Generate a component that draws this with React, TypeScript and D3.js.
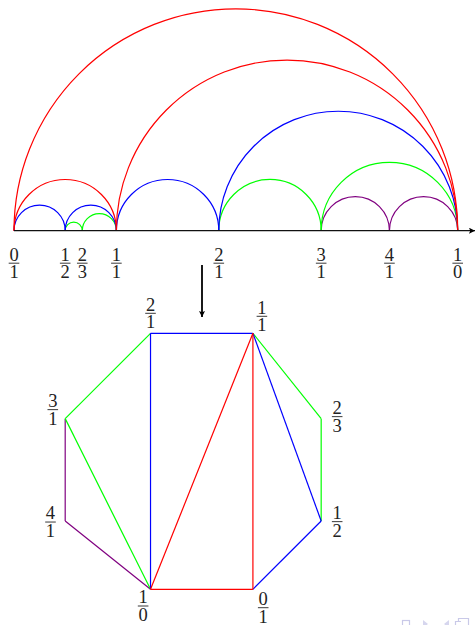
import React, { useEffect, useRef } from 'react';
import * as d3 from 'd3';

// number line: fractions and where they sit (in line units)
const axisLabels = ['0/1', '1/2', '2/3', '1/1', '2/1', '3/1', '4/1', '1/0'];
const axisPos = [0, 1 / 2, 2 / 3, 1, 2, 3, 11 / 3, 13 / 3];

// farey edges, grouped by colour
const redEdges = [['0/1', '1/0'], ['1/1', '1/0'], ['0/1', '1/1']];
const blueEdges = [['2/1', '1/0'], ['0/1', '1/2'], ['1/2', '1/1'], ['1/1', '2/1']];
const greenEdges = [['1/2', '2/3'], ['2/3', '1/1'], ['2/1', '3/1'], ['3/1', '1/0']];
const purpleEdges = [['3/1', '4/1'], ['4/1', '1/0']];

// octagon vertices (same units)
const polyLabels = ['1/0', '0/1', '1/2', '2/3', '1/1', '2/1', '3/1', '4/1'];
const polyX = [4 / 3, 7 / 3, 3, 3, 7 / 3, 4 / 3, 1 / 2, 1 / 2];
const polyY = [0, 0, 2 / 3, 5 / 3, 5 / 2, 5 / 2, 5 / 3, 2 / 3];
const polyAnchor = ['below left', 'below right', 'right', 'right', 'above right', 'above', 'above left', 'left'];

export default function App() {
  const svgRef = useRef<SVGSVGElement>(null);

  useEffect(() => {
    const width = 475;
    const height = 625;
    const axisY = 230.7;
    const font = 'Liberation Serif, DejaVu Serif, serif';

    const x = d3.scaleLinear().domain([0, 13 / 3]).range([14, 457.7]);
    const y = d3.scaleLinear().domain([0, 2.5]).range([589.3, 333.3]);

    const groups = [
      { color: '#800080', edges: purpleEdges },
      { color: '#00ff00', edges: greenEdges },
      { color: '#0000ff', edges: blueEdges },
      { color: '#ff0000', edges: redEdges },
    ];

    const svg = d3.select(svgRef.current);
    svg.selectAll('*').remove();
    svg.attr('width', width).attr('height', height);

    const defs = svg.append('defs');
    defs
      .append('marker')
      .attr('id', 'head')
      .attr('viewBox', '0 0 10 10')
      .attr('refX', 10)
      .attr('refY', 5)
      .attr('markerWidth', 8)
      .attr('markerHeight', 6)
      .attr('markerUnits', 'userSpaceOnUse')
      .attr('orient', 'auto')
      .append('path')
      .attr('d', 'M0,0 L10,5 L0,10 L2,5 Z')
      .attr('fill', '#000');

    // fraction label, centred at bar (cx, cy)
    const frac = (g, label, cx, cy) => {
      const [num, den] = label.split('/');
      const f = g.append('g').attr('font-family', font).attr('font-size', 18.5).attr('text-anchor', 'middle').attr('fill', '#222');
      f.append('text').attr('x', cx).attr('y', cy - 2.6).text(num);
      f.append('line')
        .attr('x1', cx - 5.3)
        .attr('x2', cx + 5.3)
        .attr('y1', cy)
        .attr('y2', cy)
        .attr('stroke', '#222')
        .attr('stroke-width', 0.9);
      f.append('text').attr('x', cx).attr('y', cy + 15).text(den);
    };

    // --- top: arcs over the number line
    const posOf = (lab) => axisPos[axisLabels.indexOf(lab)];
    const top = svg.append('g');
    groups.forEach((grp) => {
      top
        .append('g')
        .selectAll('path')
        .data(grp.edges)
        .join('path')
        .attr('d', (e) => {
          const x1 = x(Math.min(posOf(e[0]), posOf(e[1])));
          const x2 = x(Math.max(posOf(e[0]), posOf(e[1])));
          const r = (x2 - x1) / 2;
          const p = d3.path();
          p.moveTo(x1, axisY);
          p.arc(x1 + r, axisY, r, Math.PI, 2 * Math.PI);
          return p.toString();
        })
        .attr('fill', 'none')
        .attr('stroke', grp.color)
        .attr('stroke-width', 1.2);
    });

    top
      .append('line')
      .attr('x1', x(0))
      .attr('x2', 475)
      .attr('y1', axisY)
      .attr('y2', axisY)
      .attr('stroke', '#111')
      .attr('stroke-width', 1.2)
      .attr('marker-end', 'url(#head)');

    axisLabels.forEach((lab, i) => frac(top, lab, x(axisPos[i]), axisY + 32.5));

    // arrow between the two pictures
    svg
      .append('line')
      .attr('x1', 202)
      .attr('x2', 202)
      .attr('y1', 265)
      .attr('y2', 317)
      .attr('stroke', '#000')
      .attr('stroke-width', 1.8)
      .attr('marker-end', 'url(#head)');

    // --- bottom: octagon
    const px = (lab) => x(polyX[polyLabels.indexOf(lab)]);
    const py = (lab) => y(polyY[polyLabels.indexOf(lab)]);
    const bottom = svg.append('g');
    groups.forEach((grp) => {
      bottom
        .append('g')
        .selectAll('line')
        .data(grp.edges)
        .join('line')
        .attr('x1', (e) => px(e[0]))
        .attr('y1', (e) => py(e[0]))
        .attr('x2', (e) => px(e[1]))
        .attr('y2', (e) => py(e[1]))
        .attr('stroke', grp.color)
        .attr('stroke-width', 1.2);
    });

    const offsets = {
      above: [0, -20],
      'above right': [9, -17],
      'above left': [-12.4, -9],
      right: [16, -2],
      left: [-14.7, 1],
      'below left': [-7.4, 16.7],
      'below right': [10.3, 18.4],
    };
    polyLabels.forEach((lab, i) => {
      const o = offsets[polyAnchor[i]];
      let dy = o[1];
      if (lab === '1/2') dy = 0.6;
      frac(bottom, lab, x(polyX[i]) + o[0], y(polyY[i]) + dy);
    });

    // faint navigation symbols at the bottom corner
    const nav = svg.append('g').attr('fill', 'none').attr('stroke', '#c9c9e8').attr('stroke-width', 1.2);
    nav.append('rect').attr('x', 402.5).attr('y', 620.5).attr('width', 7).attr('height', 6);
    nav.append('path').attr('d', 'M423,620 L428,624 L423,628 Z').attr('fill', '#d6d6ee').attr('stroke', 'none');
    nav.append('path').attr('d', 'M449,620 L444,624 L449,628 Z').attr('fill', '#d6d6ee').attr('stroke', 'none');
    nav.append('path').attr('d', 'M455.5,626 V621.5 H461 M458.5,621.5 V618.5 H468.5 V626');
  }, []);

  return (
    <div style={{ position: 'absolute', left: 0, top: 0 }}>
      <svg ref={svgRef}></svg>
    </div>
  );
}
